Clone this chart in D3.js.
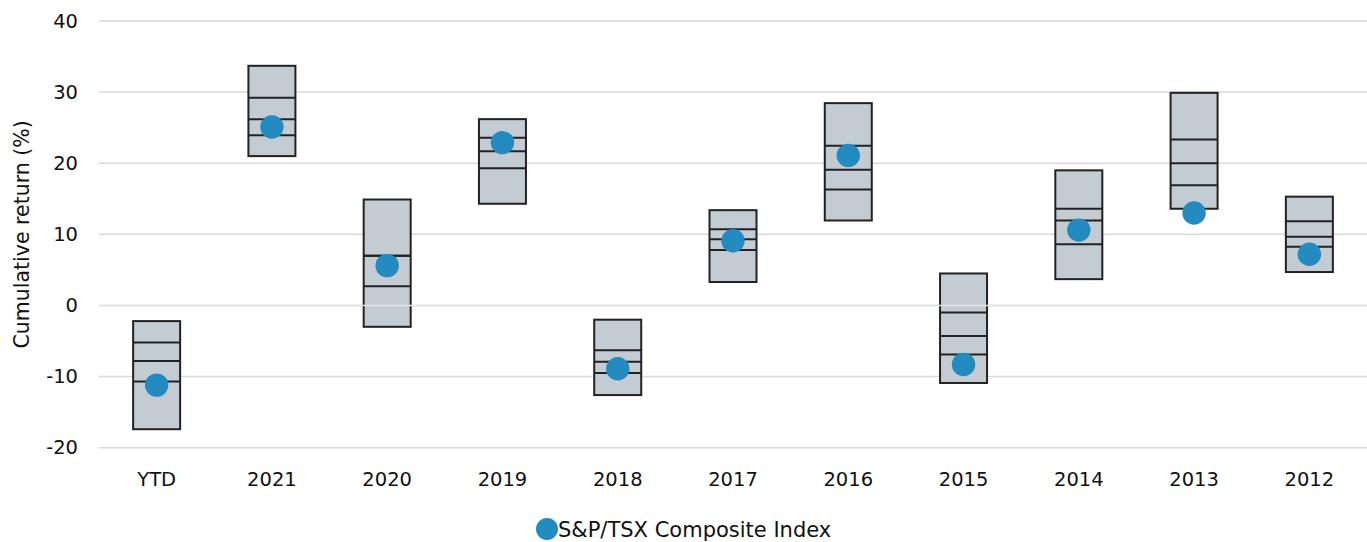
<!DOCTYPE html>
<html>
<head>
<meta charset="utf-8">
<script src="https://cdn.jsdelivr.net/npm/d3@7"></script>
<style>
  html, body { margin: 0; padding: 0; background: #fff; }
  svg { display: block; font-family: "DejaVu Sans", sans-serif; }
</style>
</head>
<body>
<svg id="chart" width="1367" height="542"></svg>
<script>
// ---- data ----
const categories = ["YTD", "2021", "2020", "2019", "2018", "2017", "2016", "2015", "2014", "2013", "2012"];
const maxVals    = [-2.2, 33.7, 14.9, 26.2, -2.0, 13.4, 28.45, 4.5, 19.0, 29.9, 15.3];
const upperVals  = [-5.2, 29.2, 7.0, 23.6, -6.3, 10.7, 22.45, -1.0, 13.6, 23.35, 11.85];
const medianVals = [-7.8, 26.2, 7.0, 21.7, -7.9, 9.3, 19.1, -4.3, 11.95, 20.0, 9.65];
const lowerVals  = [-10.7, 23.95, 2.7, 19.3, -9.5, 7.8, 16.3, -6.9, 8.6, 16.9, 8.25];
const minVals    = [-17.4, 21.0, -3.0, 14.3, -12.6, 3.3, 11.95, -10.9, 3.7, 13.6, 4.7];
const indexVals  = [-11.2, 25.1, 5.6, 22.9, -8.9, 9.1, 21.1, -8.3, 10.6, 13.0, 7.2];
const yTicks     = [-20, -10, 0, 10, 20, 30, 40];
const yTickLabels = ["-20", "-10", "0", "10", "20", "30", "40"];
const seriesName = "S&P/TSX Composite Index";
const yTitle     = "Cumulative return (%)";

// ---- layout ----
const svg = d3.select("#chart");
const plotLeft = 99, plotRight = 1367, plotTop = 21, plotBottom = 447.7;

const x = d3.scaleBand().domain(categories).range([plotLeft, plotRight]).paddingInner(0).paddingOuter(0);
const y = d3.scaleLinear().domain([-20, 40]).range([plotBottom, plotTop]);

const boxW = 47;
const dotColor = "#238bc0";
const textColor = "#111";

// gridlines
svg.append("g")
  .selectAll("line")
  .data(yTicks)
  .join("line")
  .attr("x1", plotLeft).attr("x2", plotRight)
  .attr("y1", d => y(d)).attr("y2", d => y(d))
  .attr("stroke", "#d9d9de").attr("stroke-width", 1.5);

// y axis labels
const yAxis = d3.axisLeft(y).tickValues(yTicks)
  .tickFormat((d, i) => yTickLabels[i]).tickSize(0).tickPadding(0);
const gy = svg.append("g").attr("transform", `translate(78,0)`).call(yAxis);
gy.select(".domain").remove();
gy.selectAll("text").attr("font-size", 19.5).attr("fill", textColor)
  .attr("font-family", "'DejaVu Sans', sans-serif");

// x axis labels
const xAxis = d3.axisBottom(x).tickSize(0).tickPadding(0);
const gx = svg.append("g").attr("transform", `translate(0,486)`).call(xAxis);
gx.select(".domain").remove();
gx.selectAll("text").attr("font-size", 19.5).attr("fill", textColor).attr("dy", 0).attr("y", 0)
  .attr("font-family", "'DejaVu Sans', sans-serif");

// boxes
const rows = categories.map((c, i) => ({
  c, max: maxVals[i], up: upperVals[i], med: medianVals[i], low: lowerVals[i], min: minVals[i], idx: indexVals[i]
}));

const g = svg.append("g");
g.selectAll("rect.box")
  .data(rows)
  .join("rect")
  .attr("class", "box")
  .attr("x", d => x(d.c) + x.bandwidth() / 2 - boxW / 2)
  .attr("width", boxW)
  .attr("y", d => y(d.max))
  .attr("height", d => y(d.min) - y(d.max))
  .attr("fill", "#c4ccd3")
  .attr("stroke", "#222").attr("stroke-width", 2);

["up", "med", "low"].forEach(k => {
  g.selectAll("line." + k)
    .data(rows)
    .join("line")
    .attr("class", k)
    .attr("x1", d => x(d.c) + x.bandwidth() / 2 - boxW / 2)
    .attr("x2", d => x(d.c) + x.bandwidth() / 2 + boxW / 2)
    .attr("y1", d => y(d[k])).attr("y2", d => y(d[k]))
    .attr("stroke", "#222").attr("stroke-width", 2);
});

// zero line drawn on top
svg.append("line")
  .attr("x1", plotLeft).attr("x2", plotRight)
  .attr("y1", y(0)).attr("y2", y(0))
  .attr("stroke", "#e2e2e8").attr("stroke-width", 1.5);

// index dots
svg.append("g").selectAll("circle")
  .data(rows)
  .join("circle")
  .attr("cx", d => x(d.c) + x.bandwidth() / 2)
  .attr("cy", d => y(d.idx))
  .attr("r", 11.7)
  .attr("fill", dotColor);

// y title
svg.append("text")
  .attr("transform", `translate(29,${(y(40) + y(-20)) / 2}) rotate(-90)`)
  .attr("text-anchor", "middle")
  .attr("font-size", 20.5).attr("fill", textColor)
  .text(yTitle);

// legend
svg.append("circle").attr("cx", 547).attr("cy", 529).attr("r", 11).attr("fill", dotColor);
svg.append("text").attr("x", 558).attr("y", 537)
  .attr("font-size", 21).attr("fill", textColor)
  .text(seriesName);
</script>
</body>
</html>
